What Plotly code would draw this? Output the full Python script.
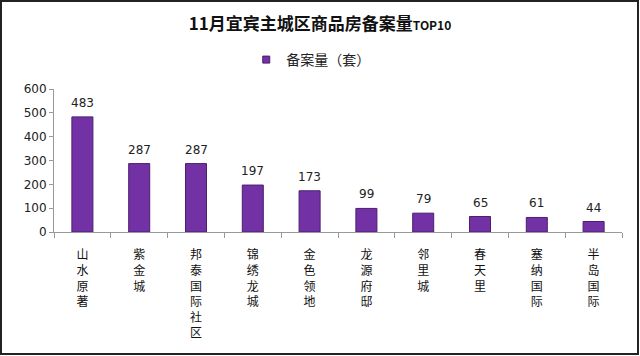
import plotly.graph_objects as go

categories = ["山水原著", "紫金城", "邦泰国际社区", "锦绣龙城", "金色领地",
              "龙源府邸", "邻里城", "春天里", "塞纳国际", "半岛国际"]
values = [483, 287, 287, 197, 173, 99, 79, 65, 61, 44]
y_ticks = [0, 100, 200, 300, 400, 500, 600]
series_name = "备案量（套）"
title_main = "11月宜宾主城区商品房备案量"
title_tail = "TOP10"

tick_text = ["<br>".join(list(c)) for c in categories]

W, H = 640, 356
ml, mr, mt, mb = 54, 18, 89, 124
pw, ph = W - ml - mr, H - mt - mb
bar_color = "#7232a6"

fig = go.Figure()
fig.add_trace(go.Bar(
    x=categories, y=values, name=series_name,
    marker=dict(color=bar_color, line=dict(color="#4b1f6e", width=1)),
    width=0.37, showlegend=False, hoverinfo="x+y",
))
# legend entry with a small square swatch
fig.add_trace(go.Scatter(
    x=[None], y=[None], mode="markers", name=series_name,
    marker=dict(symbol="square", size=7, color=bar_color,
                line=dict(color="#4b1f6e", width=1)),
    showlegend=True,
))

annotations = [dict(x=c, y=v, text=str(v), showarrow=False, yshift=14,
                    xref="x", yref="y",
                    font=dict(family="DejaVu Sans, Verdana", size=12, color="#222"))
               for c, v in zip(categories, values)]

fig.update_layout(
    width=W, height=H,
    margin=dict(l=ml, r=mr, t=mt, b=mb, autoexpand=False),
    paper_bgcolor="white", plot_bgcolor="white",
    title=dict(text="<b>" + title_main + "<span style='font-size:12px'>" + title_tail + "</span></b>",
               x=0.5, xanchor="center",
               y=1 - 24 / H, yanchor="middle",
               font=dict(family="Noto Sans CJK SC", size=17, color="#111")),
    showlegend=True,
    legend=dict(orientation="h", x=0.452, xanchor="center", y=1 + 29 / ph, yanchor="middle",
                font=dict(family="Noto Sans CJK SC", size=14, color="#222"),
                itemwidth=30),
    annotations=annotations,
    xaxis=dict(
        tickmode="array", tickvals=categories, ticktext=tick_text,
        tickson="boundaries", ticks="outside", ticklen=5, tickcolor="#999",
        showline=True, linecolor="#999", linewidth=1,
        tickfont=dict(family="Noto Sans CJK SC", size=12, color="#111"),
        ticklabelstandoff=12,
        tickangle=0, showgrid=False, automargin=False,
    ),
    yaxis=dict(
        range=[0, 600], tickvals=y_ticks, showgrid=False,
        ticks="outside", ticklen=4, tickcolor="#999",
        showline=True, linecolor="#999", linewidth=1,
        tickfont=dict(family="DejaVu Sans, Verdana", size=12, color="#222"),
        zeroline=False, automargin=False,
    ),
    shapes=[dict(type="rect", xref="paper", yref="paper",
                 x0=-(ml - 1) / pw, x1=1 + (mr - 2) / pw,
                 y0=-(mb - 2) / ph, y1=1 + (mt - 1) / ph,
                 line=dict(color="#222", width=2), fillcolor="rgba(0,0,0,0)")],
)

fig.write_html("out.html", config={"displayModeBar": False},
               post_script="document.body.style.margin='0';")
